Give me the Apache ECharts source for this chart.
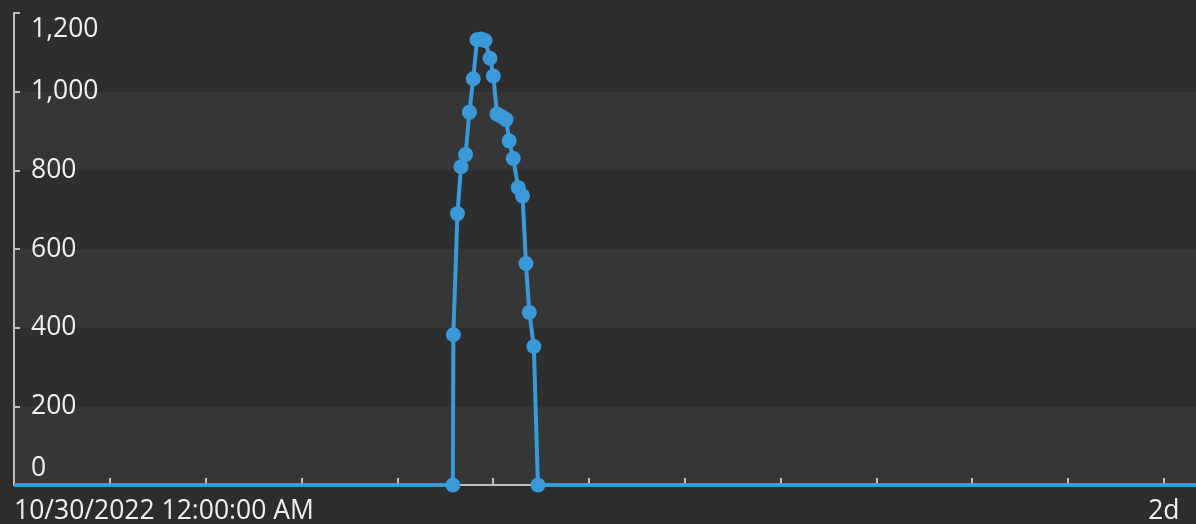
<!DOCTYPE html>
<html>
<head>
<meta charset="utf-8">
<style>
  html, body { margin: 0; padding: 0; background: #2d2d2d; }
  #chart { width: 1196px; height: 524px; }
</style>
<script src="https://cdn.jsdelivr.net/npm/echarts@6/dist/echarts.min.js"></script>
</head>
<body>
<div id="chart"></div>
<script>
// Time since 10/30/2022 12:00:00 AM, in hours
const hours = [0, 18.32, 18.34, 18.51, 18.66, 18.85, 19.01, 19.17, 19.33, 19.49, 19.66, 19.87, 20.01, 20.16, 20.35, 20.54, 20.67, 20.84, 21.05, 21.23, 21.37, 21.51, 21.70, 21.87, 49.34];
const values = [0, 0, 382, 690, 809, 840, 948, 1033, 1132, 1134, 1130, 1085, 1040, 943, 937, 929, 875, 830, 756, 735, 563, 439, 352, 0, 0];

const xTickValues = [0, 4, 8, 12, 16, 20, 24, 28, 32, 36, 40, 44, 48];
const xLabelValues = [0, 48];
const xLabelTexts = ['10/30/2022 12:00:00 AM', '2d'];
const yTicks = [0, 200, 400, 600, 800, 1000, 1200];

const seriesData = hours.map((h, i) => [h, values[i]]);
const lastIdx = seriesData.length - 1;

const chart = echarts.init(document.getElementById('chart'));
const fontFamily = '"Open Sans", "Liberation Sans", Arial, sans-serif';
const axisGray = '#bdbdbd';
chart.setOption({
  backgroundColor: '#2d2d2d',
  animation: false,
  grid: { left: 14, right: 0, top: 13, bottom: 39, containLabel: false, outerBoundsMode: 'none' },
  xAxis: {
    type: 'value',
    min: 0,
    max: 49.34,
    interval: 4,
    axisLine: { show: true, onZero: false, lineStyle: { color: axisGray, width: 2 } },
    axisTick: { show: true, inside: true, length: 7, customValues: xTickValues, lineStyle: { color: axisGray, width: 2 } },
    splitLine: { show: false },
    axisLabel: {
      customValues: xLabelValues,
      formatter: function (v) {
        const i = xLabelValues.indexOf(v);
        return i >= 0 ? xLabelTexts[i] : '';
      },
      color: '#f0f0f0',
      fontSize: 26.5,
      lineHeight: 31,
      fontFamily: fontFamily,
      margin: 11,
      alignMinLabel: 'left'
    }
  },
  yAxis: {
    type: 'value',
    min: 0,
    max: 1200,
    interval: 200,
    axisLine: { show: true, lineStyle: { color: axisGray, width: 2 } },
    axisTick: { show: true, inside: true, length: 6, lineStyle: { color: axisGray, width: 2 } },
    splitLine: { show: false },
    splitArea: { show: true, areaStyle: { color: ['#363636', '#2e2e2e'] } },
    axisLabel: {
      inside: true,
      margin: 17,
      color: '#f0f0f0',
      fontSize: 26.5,
      lineHeight: 33,
      fontFamily: fontFamily,
      verticalAlignMinLabel: 'bottom',
      verticalAlignMaxLabel: 'top',
      formatter: function (v) { return yTicks.indexOf(v) >= 0 ? v.toLocaleString('en-US') : ''; }
    }
  },
  series: [{
    type: 'line',
    data: seriesData,
    symbol: 'circle',
    symbolSize: function (val, params) {
      return (params.dataIndex === 0 || params.dataIndex === lastIdx) ? 0 : 15;
    },
    showAllSymbol: true,
    lineStyle: { color: '#3a9ad9', width: 4 },
    itemStyle: { color: '#3a9ad9' },
    z: 5
  }]
});
</script>
</body>
</html>
